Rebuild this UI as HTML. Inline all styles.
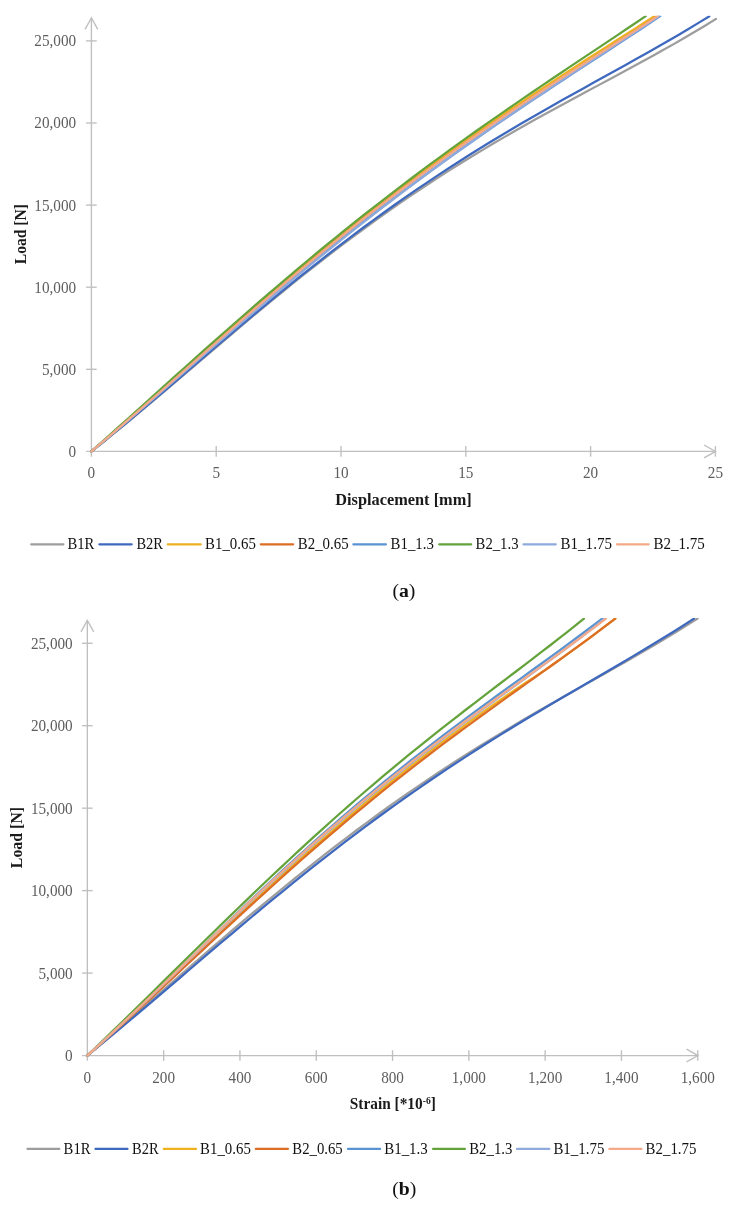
<!DOCTYPE html>
<html lang="en"><head><meta charset="utf-8"><title>Load-displacement and load-strain curves</title>
<style>
html,body{margin:0;padding:0;background:#fff;}
body{width:729px;height:1207px;overflow:hidden;font-family:"Liberation Serif",serif;}
svg{display:block;}
text{font-family:"Liberation Serif",serif;}
.tk text{font-size:16.2px;fill:#5e5e5e;}
.lg text{font-size:16px;fill:#111;}
.ttl{font-size:16px;font-weight:bold;fill:#1a1a1a;}
.cap{font-size:19.7px;fill:#111;}
.cv path{fill:none;stroke-width:2.25;stroke-linecap:round;stroke-linejoin:round;}
</style></head><body>
<svg width="729" height="1207" viewBox="0 0 729 1207">
<rect width="729" height="1207" fill="#ffffff"/>

<!-- chart a -->
<g stroke="#bfbfbf" stroke-width="1.35" fill="none" stroke-linecap="butt">
<path d="M91.40,456.70 L91.40,17.90"/>
<path d="M86.10,451.40 L715.50,451.40"/>
<path d="M85.00,29.30 L91.40,17.90 L97.80,29.30"/>
<path d="M704.10,445.00 L715.50,451.40 L704.10,457.80"/>
<path d="M216.20,446.10 L216.20,456.70"/>
<path d="M341.00,446.10 L341.00,456.70"/>
<path d="M465.80,446.10 L465.80,456.70"/>
<path d="M590.60,446.10 L590.60,456.70"/>
<path d="M715.40,446.10 L715.40,456.70"/>
<path d="M86.10,369.30 L96.70,369.30"/>
<path d="M86.10,287.20 L96.70,287.20"/>
<path d="M86.10,205.10 L96.70,205.10"/>
<path d="M86.10,123.00 L96.70,123.00"/>
<path d="M86.10,40.90 L96.70,40.90"/>
</g>
<g class="tk">
<text x="87.60" y="478.30" textLength="7.60" lengthAdjust="spacingAndGlyphs">0</text>
<text x="212.40" y="478.30" textLength="7.60" lengthAdjust="spacingAndGlyphs">5</text>
<text x="333.40" y="478.30" textLength="15.20" lengthAdjust="spacingAndGlyphs">10</text>
<text x="458.20" y="478.30" textLength="15.20" lengthAdjust="spacingAndGlyphs">15</text>
<text x="583.00" y="478.30" textLength="15.20" lengthAdjust="spacingAndGlyphs">20</text>
<text x="707.80" y="478.30" textLength="15.20" lengthAdjust="spacingAndGlyphs">25</text>
<text x="68.50" y="456.85" textLength="7.60" lengthAdjust="spacingAndGlyphs">0</text>
<text x="41.90" y="374.75" textLength="34.20" lengthAdjust="spacingAndGlyphs">5,000</text>
<text x="34.30" y="292.65" textLength="41.80" lengthAdjust="spacingAndGlyphs">10,000</text>
<text x="34.30" y="210.55" textLength="41.80" lengthAdjust="spacingAndGlyphs">15,000</text>
<text x="34.30" y="128.45" textLength="41.80" lengthAdjust="spacingAndGlyphs">20,000</text>
<text x="34.30" y="46.35" textLength="41.80" lengthAdjust="spacingAndGlyphs">25,000</text>
</g>
<clipPath id="clipA"><rect x="80" y="15.7" width="649" height="450"/></clipPath>
<g class="cv" clip-path="url(#clipA)">
<path d="M91.40,451.40 L101.99,443.01 L112.57,434.48 L123.16,425.83 L133.75,417.07 L144.33,408.23 L154.92,399.32 L165.51,390.35 L176.09,381.35 L186.68,372.33 L197.26,363.30 L207.85,354.27 L218.44,345.27 L229.02,336.29 L239.61,327.36 L250.20,318.49 L260.78,309.67 L271.37,300.93 L281.96,292.27 L292.54,283.70 L303.13,275.23 L313.72,266.86 L324.30,258.60 L334.89,250.45 L345.47,242.42 L356.06,234.52 L366.65,226.74 L377.23,219.09 L387.82,211.57 L398.41,204.18 L408.99,196.92 L419.58,189.79 L430.17,182.78 L440.75,175.91 L451.34,169.16 L461.93,162.53 L472.51,156.02 L483.10,149.62 L493.68,143.33 L504.27,137.14 L514.86,131.05 L525.44,125.04 L536.03,119.10 L546.62,113.24 L557.20,107.44 L567.79,101.69 L578.38,95.98 L588.96,90.29 L599.55,84.62 L610.14,78.94 L620.72,73.26 L631.31,67.55 L641.89,61.79 L652.48,55.98 L663.07,50.09 L673.65,44.11 L684.24,38.02 L694.83,31.80 L705.41,25.43 L716.00,18.89" stroke="#9d9d9d"/>
<path d="M91.40,451.40 L101.87,443.00 L112.35,434.48 L122.82,425.85 L133.30,417.12 L143.77,408.31 L154.25,399.44 L164.72,390.53 L175.20,381.58 L185.67,372.61 L196.15,363.63 L206.62,354.66 L217.09,345.71 L227.57,336.79 L238.04,327.90 L248.52,319.07 L258.99,310.29 L269.47,301.57 L279.94,292.94 L290.42,284.38 L300.89,275.92 L311.37,267.54 L321.84,259.27 L332.32,251.10 L342.79,243.05 L353.26,235.10 L363.74,227.27 L374.21,219.56 L384.69,211.97 L395.16,204.50 L405.64,197.15 L416.11,189.92 L426.59,182.81 L437.06,175.82 L447.54,168.95 L458.01,162.19 L468.48,155.55 L478.96,149.01 L489.43,142.57 L499.91,136.22 L510.38,129.97 L520.86,123.81 L531.33,117.72 L541.81,111.70 L552.28,105.74 L562.76,99.84 L573.23,93.98 L583.71,88.15 L594.18,82.34 L604.65,76.55 L615.13,70.75 L625.60,64.94 L636.08,59.10 L646.55,53.22 L657.03,47.28 L667.50,41.27 L677.98,35.17 L688.45,28.97 L698.93,22.65 L709.40,16.19" stroke="#3f69be"/>
<path d="M91.40,451.40 L100.94,443.09 L110.49,434.74 L120.03,426.34 L129.58,417.92 L139.12,409.46 L148.66,400.99 L158.21,392.50 L167.75,384.01 L177.30,375.52 L186.84,367.04 L196.38,358.57 L205.93,350.12 L215.47,341.70 L225.02,333.30 L234.56,324.93 L244.11,316.61 L253.65,308.32 L263.19,300.08 L272.74,291.89 L282.28,283.76 L291.83,275.68 L301.37,267.66 L310.91,259.70 L320.46,251.81 L330.00,243.98 L339.55,236.23 L349.09,228.54 L358.63,220.93 L368.18,213.38 L377.72,205.92 L387.27,198.52 L396.81,191.20 L406.35,183.96 L415.90,176.79 L425.44,169.70 L434.99,162.68 L444.53,155.73 L454.07,148.85 L463.62,142.04 L473.16,135.31 L482.71,128.63 L492.25,122.03 L501.79,115.48 L511.34,109.00 L520.88,102.57 L530.43,96.19 L539.97,89.86 L549.52,83.58 L559.06,77.34 L568.60,71.13 L578.15,64.96 L587.69,58.82 L597.24,52.70 L606.78,46.60 L616.32,40.51 L625.87,34.42 L635.41,28.34 L644.96,22.25 L654.50,16.15" stroke="#edb120"/>
<path d="M91.40,451.40 L101.00,443.26 L110.60,435.05 L120.19,426.78 L129.79,418.45 L139.39,410.08 L148.99,401.68 L158.59,393.24 L168.19,384.79 L177.78,376.33 L187.38,367.87 L196.98,359.41 L206.58,350.96 L216.18,342.52 L225.78,334.11 L235.37,325.73 L244.97,317.39 L254.57,309.08 L264.17,300.82 L273.77,292.60 L283.37,284.44 L292.96,276.34 L302.56,268.30 L312.16,260.32 L321.76,252.41 L331.36,244.57 L340.96,236.79 L350.55,229.10 L360.15,221.48 L369.75,213.93 L379.35,206.46 L388.95,199.07 L398.55,191.76 L408.14,184.53 L417.74,177.37 L427.34,170.30 L436.94,163.29 L446.54,156.37 L456.14,149.52 L465.73,142.73 L475.33,136.02 L484.93,129.38 L494.53,122.79 L504.13,116.27 L513.73,109.80 L523.32,103.39 L532.92,97.03 L542.52,90.71 L552.12,84.43 L561.72,78.18 L571.32,71.96 L580.91,65.76 L590.51,59.58 L600.11,53.41 L609.71,47.24 L619.31,41.07 L628.91,34.88 L638.50,28.68 L648.10,22.45 L657.70,16.18" stroke="#dc6d25"/>
<path d="M91.40,451.40 L101.04,443.30 L110.68,435.13 L120.32,426.91 L129.96,418.65 L139.60,410.34 L149.24,402.01 L158.88,393.65 L168.53,385.27 L178.17,376.89 L187.81,368.51 L197.45,360.14 L207.09,351.77 L216.73,343.42 L226.37,335.10 L236.01,326.81 L245.65,318.54 L255.29,310.32 L264.93,302.14 L274.57,294.01 L284.21,285.92 L293.85,277.89 L303.49,269.92 L313.14,262.01 L322.78,254.16 L332.42,246.38 L342.06,238.66 L351.70,231.01 L361.34,223.43 L370.98,215.92 L380.62,208.48 L390.26,201.11 L399.90,193.82 L409.54,186.60 L419.18,179.45 L428.82,172.37 L438.46,165.36 L448.11,158.41 L457.75,151.54 L467.39,144.72 L477.03,137.97 L486.67,131.28 L496.31,124.65 L505.95,118.07 L515.59,111.53 L525.23,105.05 L534.87,98.60 L544.51,92.19 L554.15,85.82 L563.79,79.47 L573.43,73.14 L583.07,66.83 L592.72,60.53 L602.36,54.24 L612.00,47.94 L621.64,41.63 L631.28,35.30 L640.92,28.95 L650.56,22.57 L660.20,16.15" stroke="#5a93d2"/>
<path d="M91.40,451.40 L100.79,443.03 L110.19,434.62 L119.58,426.19 L128.98,417.74 L138.37,409.28 L147.77,400.81 L157.16,392.34 L166.56,383.88 L175.95,375.43 L185.35,366.99 L194.74,358.58 L204.14,350.19 L213.53,341.84 L222.93,333.51 L232.32,325.23 L241.72,316.99 L251.11,308.79 L260.51,300.65 L269.90,292.55 L279.30,284.52 L288.69,276.54 L298.09,268.62 L307.48,260.76 L316.88,252.96 L326.27,245.23 L335.67,237.57 L345.06,229.98 L354.46,222.45 L363.85,214.99 L373.25,207.60 L382.64,200.28 L392.04,193.04 L401.43,185.86 L410.83,178.74 L420.22,171.70 L429.62,164.72 L439.01,157.81 L448.41,150.95 L457.80,144.16 L467.20,137.43 L476.59,130.76 L485.99,124.14 L495.38,117.57 L504.78,111.05 L514.17,104.58 L523.57,98.14 L532.96,91.74 L542.36,85.38 L551.75,79.04 L561.15,72.73 L570.54,66.44 L579.94,60.16 L589.33,53.90 L598.73,47.63 L608.12,41.36 L617.52,35.09 L626.91,28.80 L636.31,22.48 L645.70,16.14" stroke="#64a33b"/>
<path d="M91.40,451.40 L101.02,443.36 L110.64,435.26 L120.27,427.10 L129.89,418.89 L139.51,410.65 L149.13,402.37 L158.75,394.07 L168.38,385.76 L178.00,377.43 L187.62,369.10 L197.24,360.77 L206.86,352.45 L216.49,344.15 L226.11,335.87 L235.73,327.61 L245.35,319.38 L254.97,311.19 L264.60,303.03 L274.22,294.92 L283.84,286.86 L293.46,278.84 L303.08,270.88 L312.71,262.98 L322.33,255.13 L331.95,247.35 L341.57,239.63 L351.19,231.97 L360.82,224.38 L370.44,216.86 L380.06,209.40 L389.68,202.02 L399.31,194.70 L408.93,187.45 L418.55,180.27 L428.17,173.16 L437.79,166.11 L447.42,159.13 L457.04,152.21 L466.66,145.36 L476.28,138.57 L485.90,131.83 L495.53,125.15 L505.15,118.53 L514.77,111.95 L524.39,105.42 L534.01,98.93 L543.64,92.48 L553.26,86.06 L562.88,79.67 L572.50,73.31 L582.12,66.96 L591.75,60.63 L601.37,54.31 L610.99,47.98 L620.61,41.65 L630.23,35.31 L639.86,28.96 L649.48,22.57 L659.10,16.15" stroke="#8faadc"/>
<path d="M91.40,451.40 L101.00,443.26 L110.60,435.05 L120.19,426.78 L129.79,418.45 L139.39,410.08 L148.99,401.68 L158.59,393.24 L168.19,384.79 L177.78,376.33 L187.38,367.87 L196.98,359.41 L206.58,350.96 L216.18,342.52 L225.78,334.11 L235.37,325.73 L244.97,317.39 L254.57,309.08 L264.17,300.82 L273.77,292.60 L283.37,284.44 L292.96,276.34 L302.56,268.30 L312.16,260.32 L321.76,252.41 L331.36,244.57 L340.96,236.79 L350.55,229.10 L360.15,221.48 L369.75,213.93 L379.35,206.46 L388.95,199.07 L398.55,191.76 L408.14,184.53 L417.74,177.37 L427.34,170.30 L436.94,163.29 L446.54,156.37 L456.14,149.52 L465.73,142.73 L475.33,136.02 L484.93,129.38 L494.53,122.79 L504.13,116.27 L513.73,109.80 L523.32,103.39 L532.92,97.03 L542.52,90.71 L552.12,84.43 L561.72,78.18 L571.32,71.96 L580.91,65.76 L590.51,59.58 L600.11,53.41 L609.71,47.24 L619.31,41.07 L628.91,34.88 L638.50,28.68 L648.10,22.45 L657.70,16.18" stroke="#f4a988"/>
</g>
<text class="ttl" x="403.5" y="504.7" text-anchor="middle" textLength="136.4" lengthAdjust="spacingAndGlyphs">Displacement [mm]</text>
<text class="ttl" transform="translate(25.7,234.1) rotate(-90)" text-anchor="middle" textLength="60.2" lengthAdjust="spacingAndGlyphs">Load [N]</text>
<g stroke-width="2.25" stroke-linecap="round" fill="none">
<path d="M31.23,544.30 L63.38,544.30" stroke="#9d9d9d"/>
<path d="M99.33,544.30 L131.68,544.30" stroke="#3f69be"/>
<path d="M167.72,544.30 L200.78,544.30" stroke="#edb120"/>
<path d="M260.82,544.30 L293.18,544.30" stroke="#dc6d25"/>
<path d="M353.32,544.30 L385.88,544.30" stroke="#5a93d2"/>
<path d="M439.23,544.30 L471.18,544.30" stroke="#64a33b"/>
<path d="M523.42,544.30 L555.77,544.30" stroke="#8faadc"/>
<path d="M616.92,544.30 L648.67,544.30" stroke="#f4a988"/>
</g>
<g class="lg">
<text x="67.40" y="549.30" textLength="26.90" lengthAdjust="spacingAndGlyphs">B1R</text>
<text x="136.40" y="549.30" textLength="26.50" lengthAdjust="spacingAndGlyphs">B2R</text>
<text x="205.10" y="549.30" textLength="50.70" lengthAdjust="spacingAndGlyphs">B1_0.65</text>
<text x="297.80" y="549.30" textLength="50.80" lengthAdjust="spacingAndGlyphs">B2_0.65</text>
<text x="390.60" y="549.30" textLength="43.30" lengthAdjust="spacingAndGlyphs">B1_1.3</text>
<text x="475.60" y="549.30" textLength="42.90" lengthAdjust="spacingAndGlyphs">B2_1.3</text>
<text x="560.60" y="549.30" textLength="51.30" lengthAdjust="spacingAndGlyphs">B1_1.75</text>
<text x="653.40" y="549.30" textLength="51.30" lengthAdjust="spacingAndGlyphs">B2_1.75</text>
</g>
<text class="cap" x="403.9" y="596.9" text-anchor="middle">(<tspan font-weight="bold">a</tspan>)</text>
<!-- chart b -->
<g stroke="#bfbfbf" stroke-width="1.35" fill="none" stroke-linecap="butt">
<path d="M87.35,1060.85 L87.35,620.50"/>
<path d="M82.05,1055.55 L698.00,1055.55"/>
<path d="M80.95,631.90 L87.35,620.50 L93.75,631.90"/>
<path d="M686.60,1049.15 L698.00,1055.55 L686.60,1061.95"/>
<path d="M163.65,1050.25 L163.65,1060.85"/>
<path d="M239.95,1050.25 L239.95,1060.85"/>
<path d="M316.25,1050.25 L316.25,1060.85"/>
<path d="M392.55,1050.25 L392.55,1060.85"/>
<path d="M468.85,1050.25 L468.85,1060.85"/>
<path d="M545.15,1050.25 L545.15,1060.85"/>
<path d="M621.45,1050.25 L621.45,1060.85"/>
<path d="M697.75,1050.25 L697.75,1060.85"/>
<path d="M82.05,973.09 L92.65,973.09"/>
<path d="M82.05,890.63 L92.65,890.63"/>
<path d="M82.05,808.17 L92.65,808.17"/>
<path d="M82.05,725.71 L92.65,725.71"/>
<path d="M82.05,643.25 L92.65,643.25"/>
</g>
<g class="tk">
<text x="83.55" y="1083.00" textLength="7.60" lengthAdjust="spacingAndGlyphs">0</text>
<text x="152.25" y="1083.00" textLength="22.80" lengthAdjust="spacingAndGlyphs">200</text>
<text x="228.55" y="1083.00" textLength="22.80" lengthAdjust="spacingAndGlyphs">400</text>
<text x="304.85" y="1083.00" textLength="22.80" lengthAdjust="spacingAndGlyphs">600</text>
<text x="381.15" y="1083.00" textLength="22.80" lengthAdjust="spacingAndGlyphs">800</text>
<text x="451.75" y="1083.00" textLength="34.20" lengthAdjust="spacingAndGlyphs">1,000</text>
<text x="528.05" y="1083.00" textLength="34.20" lengthAdjust="spacingAndGlyphs">1,200</text>
<text x="604.35" y="1083.00" textLength="34.20" lengthAdjust="spacingAndGlyphs">1,400</text>
<text x="680.65" y="1083.00" textLength="34.20" lengthAdjust="spacingAndGlyphs">1,600</text>
<text x="65.10" y="1061.05" textLength="7.60" lengthAdjust="spacingAndGlyphs">0</text>
<text x="38.50" y="978.59" textLength="34.20" lengthAdjust="spacingAndGlyphs">5,000</text>
<text x="30.90" y="896.13" textLength="41.80" lengthAdjust="spacingAndGlyphs">10,000</text>
<text x="30.90" y="813.67" textLength="41.80" lengthAdjust="spacingAndGlyphs">15,000</text>
<text x="30.90" y="731.21" textLength="41.80" lengthAdjust="spacingAndGlyphs">20,000</text>
<text x="30.90" y="648.75" textLength="41.80" lengthAdjust="spacingAndGlyphs">25,000</text>
</g>
<clipPath id="clipB"><rect x="80" y="618.0" width="649" height="450"/></clipPath>
<g class="cv" clip-path="url(#clipB)">
<path d="M87.35,1055.55 L97.69,1046.74 L108.03,1037.88 L118.38,1028.97 L128.72,1020.02 L139.06,1011.05 L149.40,1002.05 L159.75,993.05 L170.09,984.05 L180.43,975.05 L190.77,966.07 L201.12,957.11 L211.46,948.19 L221.80,939.31 L232.14,930.48 L242.49,921.70 L252.83,912.98 L263.17,904.34 L273.51,895.76 L283.86,887.27 L294.20,878.87 L304.54,870.55 L314.88,862.33 L325.22,854.21 L335.57,846.20 L345.91,838.29 L356.25,830.49 L366.59,822.80 L376.94,815.23 L387.28,807.77 L397.62,800.42 L407.96,793.20 L418.31,786.09 L428.65,779.09 L438.99,772.21 L449.33,765.44 L459.68,758.77 L470.02,752.22 L480.36,745.76 L490.70,739.40 L501.04,733.13 L511.39,726.95 L521.73,720.84 L532.07,714.80 L542.41,708.83 L552.76,702.91 L563.10,697.03 L573.44,691.18 L583.78,685.36 L594.13,679.54 L604.47,673.72 L614.81,667.88 L625.15,662.01 L635.50,656.09 L645.84,650.10 L656.18,644.03 L666.52,637.86 L676.87,631.57 L687.21,625.13 L697.55,618.54" stroke="#9d9d9d"/>
<path d="M87.35,1055.55 L97.63,1047.16 L107.92,1038.67 L118.20,1030.11 L128.48,1021.49 L138.77,1012.81 L149.05,1004.09 L159.33,995.34 L169.61,986.57 L179.90,977.79 L190.18,969.00 L200.46,960.22 L210.75,951.46 L221.03,942.72 L231.31,934.02 L241.60,925.36 L251.88,916.74 L262.16,908.18 L272.44,899.69 L282.73,891.26 L293.01,882.90 L303.29,874.63 L313.58,866.43 L323.86,858.33 L334.14,850.32 L344.43,842.40 L354.71,834.58 L364.99,826.87 L375.28,819.25 L385.56,811.74 L395.84,804.34 L406.12,797.04 L416.41,789.84 L426.69,782.75 L436.97,775.77 L447.26,768.89 L457.54,762.10 L467.82,755.41 L478.11,748.82 L488.39,742.31 L498.67,735.88 L508.96,729.54 L519.24,723.27 L529.52,717.06 L539.80,710.91 L550.09,704.81 L560.37,698.75 L570.65,692.72 L580.94,686.72 L591.22,680.73 L601.50,674.74 L611.79,668.73 L622.07,662.70 L632.35,656.64 L642.63,650.52 L652.92,644.33 L663.20,638.06 L673.48,631.69 L683.77,625.20 L694.05,618.57" stroke="#3f69be"/>
<path d="M87.35,1055.55 L96.30,1047.62 L105.24,1039.61 L114.19,1031.51 L123.14,1023.35 L132.09,1015.13 L141.03,1006.85 L149.98,998.54 L158.93,990.18 L167.88,981.80 L176.82,973.40 L185.77,964.99 L194.72,956.55 L203.67,948.12 L212.61,939.70 L221.56,931.30 L230.51,922.91 L239.46,914.56 L248.40,906.24 L257.35,897.96 L266.30,889.72 L275.25,881.53 L284.19,873.40 L293.14,865.34 L302.09,857.35 L311.04,849.42 L319.98,841.55 L328.93,833.76 L337.88,826.04 L346.83,818.40 L355.77,810.83 L364.72,803.34 L373.67,795.93 L382.62,788.60 L391.56,781.39 L400.51,774.29 L409.46,767.25 L418.41,760.30 L427.35,753.41 L436.30,746.60 L445.25,739.85 L454.20,733.16 L463.14,726.53 L472.09,719.96 L481.04,713.43 L489.99,707.09 L498.93,700.90 L507.88,694.74 L516.83,688.60 L525.78,682.67 L534.72,676.87 L543.67,671.06 L552.62,664.75 L561.57,658.33 L570.51,651.87 L579.46,645.36 L588.41,638.80 L597.36,632.16 L606.30,625.43 L615.25,618.60" stroke="#edb120"/>
<path d="M87.35,1055.55 L96.30,1047.70 L105.24,1039.75 L114.19,1031.74 L123.14,1023.65 L132.09,1015.50 L141.03,1007.29 L149.98,999.05 L158.93,990.77 L167.88,982.46 L176.82,974.13 L185.77,965.79 L194.72,957.45 L203.67,949.11 L212.61,940.78 L221.56,932.46 L230.51,924.17 L239.46,915.90 L248.40,907.67 L257.35,899.48 L266.30,891.33 L275.25,883.24 L284.19,875.19 L293.14,867.21 L302.09,859.28 L311.04,851.42 L319.98,843.63 L328.93,835.91 L337.88,828.27 L346.83,820.69 L355.77,813.20 L364.72,805.78 L373.67,798.44 L382.62,791.18 L391.56,783.99 L400.51,776.89 L409.46,769.85 L418.41,762.90 L427.35,756.01 L436.30,749.20 L445.25,742.45 L454.20,735.76 L463.14,729.13 L472.09,722.56 L481.04,716.03 L489.99,709.55 L498.93,703.10 L507.88,696.68 L516.83,690.29 L525.78,683.90 L534.72,677.53 L543.67,671.14 L552.62,664.75 L561.57,658.33 L570.51,651.87 L579.46,645.36 L588.41,638.80 L597.36,632.16 L606.30,625.43 L615.25,618.60" stroke="#dc6d25"/>
<path d="M87.35,1055.55 L96.08,1047.69 L104.80,1039.73 L113.53,1031.67 L122.26,1023.52 L130.99,1015.29 L139.71,1007.01 L148.44,998.67 L157.17,990.29 L165.89,981.88 L174.62,973.44 L183.35,964.99 L192.08,956.54 L200.80,948.09 L209.53,939.65 L218.26,931.23 L226.98,922.84 L235.71,914.48 L244.44,906.16 L253.17,897.89 L261.89,889.66 L270.62,881.49 L279.35,873.39 L288.07,865.35 L296.80,857.37 L305.53,849.47 L314.26,841.65 L322.98,833.90 L331.71,826.23 L340.44,818.64 L349.16,811.14 L357.89,803.72 L366.62,796.38 L375.34,789.13 L384.07,781.96 L392.80,774.88 L401.53,767.87 L410.25,760.94 L418.98,754.09 L427.71,747.32 L436.43,740.61 L445.16,733.97 L453.89,727.39 L462.62,720.87 L471.34,714.40 L480.07,707.98 L488.80,701.60 L497.52,695.25 L506.25,688.92 L514.98,682.62 L523.71,676.33 L532.43,670.03 L541.16,663.73 L549.89,657.41 L558.61,651.07 L567.34,644.68 L576.07,638.25 L584.80,631.75 L593.52,625.18 L602.25,618.53" stroke="#5a93d2"/>
<path d="M87.35,1055.55 L95.77,1047.45 L104.18,1039.32 L112.60,1031.15 L121.02,1022.95 L129.43,1014.72 L137.85,1006.48 L146.27,998.21 L154.69,989.93 L163.10,981.65 L171.52,973.36 L179.94,965.07 L188.35,956.79 L196.77,948.52 L205.19,940.26 L213.60,932.02 L222.02,923.81 L230.44,915.63 L238.86,907.47 L247.27,899.36 L255.69,891.28 L264.11,883.25 L272.52,875.27 L280.94,867.34 L289.36,859.47 L297.77,851.65 L306.19,843.89 L314.61,836.20 L323.02,828.58 L331.44,821.02 L339.86,813.53 L348.28,806.11 L356.69,798.76 L365.11,791.49 L373.53,784.29 L381.94,777.16 L390.36,770.11 L398.78,763.12 L407.19,756.20 L415.61,749.36 L424.03,742.57 L432.44,735.85 L440.86,729.19 L449.28,722.58 L457.70,716.02 L466.11,709.51 L474.53,703.03 L482.95,696.59 L491.36,690.17 L499.78,683.77 L508.20,677.38 L516.61,671.00 L525.03,664.60 L533.45,658.18 L541.87,651.73 L550.28,645.24 L558.70,638.69 L567.12,632.07 L575.53,625.37 L583.95,618.57" stroke="#64a33b"/>
<path d="M87.35,1055.55 L96.12,1047.67 L104.90,1039.68 L113.67,1031.60 L122.44,1023.45 L131.21,1015.23 L139.99,1006.95 L148.76,998.62 L157.53,990.26 L166.31,981.87 L175.08,973.47 L183.85,965.05 L192.62,956.64 L201.40,948.23 L210.17,939.84 L218.94,931.47 L227.72,923.13 L236.49,914.83 L245.26,906.57 L254.03,898.36 L262.81,890.20 L271.58,882.10 L280.35,874.06 L289.13,866.09 L297.90,858.18 L306.67,850.35 L315.44,842.60 L324.22,834.92 L332.99,827.32 L341.76,819.80 L350.54,812.36 L359.31,805.01 L368.08,797.73 L376.86,790.54 L385.63,783.43 L394.40,776.39 L403.17,769.43 L411.95,762.55 L420.72,755.73 L429.49,748.99 L438.27,742.30 L447.04,735.68 L455.81,729.11 L464.58,722.59 L473.36,716.11 L482.13,709.67 L490.90,703.26 L499.68,696.87 L508.45,690.49 L517.22,684.13 L525.99,677.75 L534.77,671.37 L543.54,664.96 L552.31,658.52 L561.09,652.04 L569.86,645.50 L578.63,638.89 L587.40,632.20 L596.18,625.42 L604.95,618.52" stroke="#8faadc"/>
<path d="M87.35,1055.55 L96.14,1047.59 L104.93,1039.53 L113.72,1031.39 L122.51,1023.17 L131.30,1014.89 L140.09,1006.56 L148.88,998.18 L157.67,989.77 L166.46,981.33 L175.25,972.88 L184.04,964.42 L192.83,955.97 L201.62,947.52 L210.41,939.09 L219.20,930.68 L227.99,922.30 L236.78,913.96 L245.57,905.66 L254.36,897.41 L263.15,889.22 L271.94,881.08 L280.73,873.00 L289.52,864.99 L298.31,857.06 L307.10,849.19 L315.89,841.40 L324.68,833.69 L333.47,826.07 L342.26,818.52 L351.04,811.05 L359.83,803.68 L368.62,796.38 L377.41,789.17 L386.20,782.04 L394.99,774.99 L403.78,768.02 L412.57,761.13 L421.36,754.32 L430.15,747.57 L438.94,740.90 L447.73,734.29 L456.52,727.74 L465.31,721.24 L474.10,714.80 L482.89,708.39 L491.68,702.02 L500.47,695.68 L509.26,689.37 L518.05,683.06 L526.84,676.76 L535.63,670.46 L544.42,664.14 L553.21,657.80 L562.00,651.42 L570.79,644.99 L579.58,638.50 L588.37,631.94 L597.16,625.30 L605.95,618.56" stroke="#f4a988"/>
</g>
<text class="ttl" x="392.8" y="1109" text-anchor="middle" textLength="86" lengthAdjust="spacingAndGlyphs">Strain [*10<tspan font-size="10px" dy="-5.5">-6</tspan><tspan dy="5.5">]</tspan></text>
<text class="ttl" transform="translate(21.8,837.6) rotate(-90)" text-anchor="middle" textLength="61.2" lengthAdjust="spacingAndGlyphs">Load [N]</text>
<g stroke-width="2.25" stroke-linecap="round" fill="none">
<path d="M27.52,1148.90 L59.27,1148.90" stroke="#9d9d9d"/>
<path d="M95.53,1148.90 L127.47,1148.90" stroke="#3f69be"/>
<path d="M163.82,1148.90 L195.97,1148.90" stroke="#edb120"/>
<path d="M255.82,1148.90 L287.88,1148.90" stroke="#dc6d25"/>
<path d="M348.02,1148.90 L380.07,1148.90" stroke="#5a93d2"/>
<path d="M433.12,1148.90 L464.88,1148.90" stroke="#64a33b"/>
<path d="M517.02,1148.90 L549.27,1148.90" stroke="#8faadc"/>
<path d="M609.42,1148.90 L641.48,1148.90" stroke="#f4a988"/>
</g>
<g class="lg">
<text x="63.60" y="1153.70" textLength="26.90" lengthAdjust="spacingAndGlyphs">B1R</text>
<text x="132.00" y="1153.70" textLength="26.60" lengthAdjust="spacingAndGlyphs">B2R</text>
<text x="200.10" y="1153.70" textLength="50.70" lengthAdjust="spacingAndGlyphs">B1_0.65</text>
<text x="292.30" y="1153.70" textLength="50.40" lengthAdjust="spacingAndGlyphs">B2_0.65</text>
<text x="384.20" y="1153.70" textLength="43.60" lengthAdjust="spacingAndGlyphs">B1_1.3</text>
<text x="469.20" y="1153.70" textLength="43.20" lengthAdjust="spacingAndGlyphs">B2_1.3</text>
<text x="553.40" y="1153.70" textLength="51.00" lengthAdjust="spacingAndGlyphs">B1_1.75</text>
<text x="645.60" y="1153.70" textLength="50.80" lengthAdjust="spacingAndGlyphs">B2_1.75</text>
</g>
<text class="cap" x="404.2" y="1195" text-anchor="middle">(<tspan font-weight="bold">b</tspan>)</text>
</svg></body></html>
